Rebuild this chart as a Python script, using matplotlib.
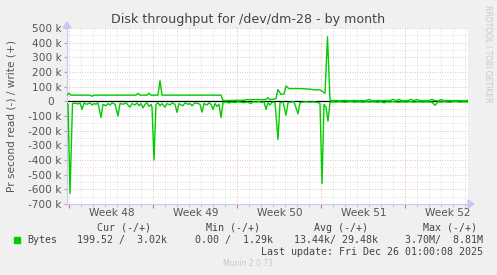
import matplotlib
matplotlib.use("Agg")
import matplotlib.pyplot as plt
import matplotlib.transforms as mtransforms
import numpy as np

# ---- data (hours since Mon 24 Nov 2025 00:00, values in k bytes/s) ----
read_hours = [-4, -2, 2, 7, 12, 18, 22, 26, 30, 36, 42, 46, 50, 54, 58, 64, 68, 74, 78, 82,
              86, 92, 98, 102, 108, 114, 118, 122, 126, 132, 136, 140, 144, 148, 152, 156, 160, 164, 166, 170,
              174, 178, 182, 186, 192, 196, 202, 206, 212, 216, 220, 224, 228, 232, 238, 242, 246, 252, 258, 262,
              266, 270, 276, 280, 284, 288, 292, 296, 300, 304, 308, 314, 320, 326, 332, 338, 344, 350, 356, 364,
              368, 374, 380, 386, 390, 394, 398, 402, 406, 412, 418, 422, 428, 434, 438, 444, 450, 458, 462, 468,
              474, 482, 490, 498, 502, 506, 510, 514, 518, 522]
read_vals = [-15, -20, -628, -15, -12, -18, -10, -55, -12, -20, -10, -25, -15, -20, -10, -110, -20, -30, -15, -25,
             -10, -20, -100, -15, -20, -10, -25, -40, -15, -25, -10, -30, -15, -45, -20, -10, -35, -20, -40, -400,
             -20, -10, -30, -15, -40, -15, -25, -10, -20, -75, -15, -25, -30, -10, -20, -15, -30, -10, -15, -20,
             -73, -15, -25, -10, -20, -55, -15, -35, -20, -110, -10, -5, -12, -5, -8, -3, -6, -10, -4, -15,
             -3, -5, -2, -8, -3, -55, -10, -25, -5, -8, -260, -10, -5, -95, -10, -5, -3, -85, -10, -5,
             -3, -6, -4, -8, -15, -560, -20, -40, -135, -5]
read_tail_hours = list(range(528, 799, 6))
read_tail_vals = [-3, -5, -2, -4, -6, -3, -2, -5, -4, -3, -6, -2, -5, -3, -4, -6, -2, -10, -3, -5,
                  -2, -4, -6, -3, -5, -4, -2, -6, -3, -4, -5, -3, -4, -6, -27, -3, -5, -2, -4, -6,
                  -3, -2, -5, -4, -3, -5]

write_hours = [-4, 0, 4, 42, 46, 50, 134, 138, 142, 156, 160, 164, 178, 182, 186, 304, 308, 322, 336, 352,
               356, 394, 398, 402, 410, 414, 418, 424, 430, 434, 440, 462, 472, 482, 492, 502, 512, 517, 522]
write_vals = [42, 55, 42, 42, 35, 42, 42, 55, 42, 42, 55, 42, 42, 140, 42, 42, 5, 6, 7, 8,
              12, 12, 25, 12, 15, 20, 80, 48, 50, 105, 87, 87, 85, 83, 78, 78, 55, 440, 7]
write_tail_hours = list(range(528, 799, 6))
write_tail_vals = [5, 6, 4, 5, 6, 5, 4, 6, 5, 5, 4, 6, 13, 5, 4, 6, 5, 4, 6, 5,
                   14, 5, 13, 5, 4, 6, 13, 5, 12, 5, 4, 6, 5, 14, 5, 4, 12, 5, 6, 5,
                   4, 6, 5, 5, 4, 6]

week_labels = ["Week 48", "Week 49", "Week 50", "Week 51", "Week 52"]
y_ticks = [-700, -600, -500, -400, -300, -200, -100, 0, 100, 200, 300, 400, 500]

title = "Disk throughput for /dev/dm-28 - by month"
ylabel = "Pr second read (-) / write (+)"
legend_header = ["Cur (-/+)", "Min (-/+)", "Avg (-/+)", "Max (-/+)"]
legend_values = ["199.52 /  3.02k", "0.00 /  1.29k", "13.44k/ 29.48k", "3.70M/  8.81M"]
last_update = "Last update: Fri Dec 26 01:00:08 2025"
footer = "Munin 2.0.73"
side_text = "RRDTOOL / TOBI OETIKER"

# ---- figure ----
W, H = 497, 275
fig = plt.figure(figsize=(W / 100, H / 100), dpi=100, facecolor="#F0F0F0")
ax = fig.add_axes([67 / W, 1 - 204 / H, (468 - 67) / W, (204 - 28) / H])
ax.set_facecolor("white")

GREEN = "#00CC00"
rx = np.array(read_hours + read_tail_hours) / 24.0
ry = np.array(read_vals + read_tail_vals)
wx = np.array(write_hours + write_tail_hours) / 24.0
wy = np.array(write_vals + write_tail_vals)

xmin, xmax = -4 / 24, 798 / 24
ax.set_xlim(xmin, xmax)
ax.set_ylim(-700, 500)

# grid
for d in range(0, 34):
    col = "#E4A8A8" if d % 7 == 0 else "#D4D4D4"
    ax.axvline(d, color=col, lw=0.6, ls=(0, (1, 2)), zorder=1)
for v in range(-700, 501, 50):
    col = "#E4A8A8" if v % 100 == 0 else "#D4D4D4"
    ax.axhline(v, color=col, lw=0.6, ls=(0, (1, 2)), zorder=1)

ax.plot(rx, ry, color=GREEN, lw=1.0, zorder=3)
ax.plot(wx, wy, color=GREEN, lw=1.0, zorder=3)
ax.axhline(0, color="black", lw=0.9, zorder=2)

# axes styling
for s in ["top", "right"]:
    ax.spines[s].set_visible(False)
for s in ["left", "bottom"]:
    ax.spines[s].set_color("#C8C8F0")
    ax.spines[s].set_linewidth(0.8)

ax.set_yticks(y_ticks)
ax.set_yticklabels([("%d k" % v) if v != 0 else "0  " for v in y_ticks])
ax.tick_params(axis="y", labelsize=7.6, labelcolor="#555555", length=2, color="#AAAAAA", pad=2)
ax.set_xticks([0, 7, 14, 21, 28])
ax.set_xticklabels([])
ax.set_xticks(list(range(0, 34)), minor=True)
ax.tick_params(axis="x", which="major", length=3, color="#E07070")
ax.tick_params(axis="x", which="minor", length=2, color="#BBBBBB")

trans = mtransforms.blended_transform_factory(ax.transData, fig.transFigure)
for i, lab in enumerate(week_labels):
    ax.text(3.6 + 7 * i, 1 - 213 / H, lab, transform=trans, ha="center", va="center",
            fontsize=7.6, color="#555555")

# arrows
fig.patches.append(matplotlib.patches.FancyArrow(67 / W, 1 - 28 / H, 0, 6 / H, width=0.0,
                   head_width=8 / W, head_length=6 / H, color="#C8C8F0", transform=fig.transFigure,
                   length_includes_head=True))
fig.patches.append(matplotlib.patches.FancyArrow(468 / W, 1 - 204 / H, 6 / W, 0, width=0.0,
                   head_width=8 / H, head_length=6 / W, color="#C8C8F0", transform=fig.transFigure,
                   length_includes_head=True))

fig.text(248 / W, 1 - 19 / H, title, ha="center", va="center", fontsize=9.1, color="#444444")
fig.text(12 / W, 1 - 116 / H, ylabel, ha="center", va="center", rotation=90, fontsize=7.6, color="#555555")
fig.text(488 / W, 1 - 5 / H, side_text, ha="center", va="top", rotation=270, fontsize=5.5, color="#C8C8C8")

mono = "DejaVu Sans Mono"
fs = 7.2
hx = [(98 + 151) / 2, (207 + 260) / 2, (315 + 368) / 2, (423 + 477) / 2]
for x, t in zip(hx, legend_header):
    fig.text(x / W, 1 - 228 / H, t, ha="center", va="center", family=mono, fontsize=fs, color="#444444")
fig.patches.append(matplotlib.patches.Rectangle((14 / W, 1 - 243 / H), 6 / W, 6 / H,
                   color=GREEN, transform=fig.transFigure))
fig.text(27 / W, 1 - 240 / H, "Bytes", ha="left", va="center", family=mono, fontsize=fs, color="#444444")
vx = [167, 273, 378, 483]
for x, t in zip(vx, legend_values):
    fig.text(x / W, 1 - 240 / H, t, ha="right", va="center", family=mono, fontsize=fs, color="#444444")
fig.text(483 / W, 1 - 252 / H, last_update, ha="right", va="center", family=mono, fontsize=fs, color="#444444")
fig.text(248 / W, 1 - 264 / H, footer, ha="center", va="center", fontsize=5.5, color="#C8C8C8")

fig.savefig("out.png", dpi=100, facecolor=fig.get_facecolor())
